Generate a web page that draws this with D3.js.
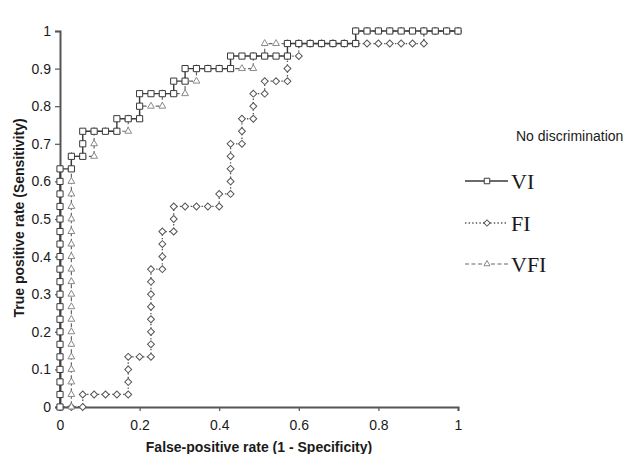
<!DOCTYPE html>
<html>
<head>
<meta charset="utf-8">
<script src="https://cdn.jsdelivr.net/npm/d3@7"></script>
<style>
  html, body { margin: 0; padding: 0; background: #ffffff; }
  svg { display: block; }
</style>
</head>
<body>
<svg id="chart" width="623" height="454"></svg>
<script>
// ROC curves: counts of false positives (out of 35 negatives) and
// true positives (out of 30 positives) at each threshold step.
const nNeg = 35;
const nPos = 30;

const viFP = [0,0,0,0,0,0,0,0,0,0,0,0,0,0,0,0,0,0,0,0,
  1,1,2,2,2,3,4,5,5,6,7,7,7,8,9,10,10,11,11,12,13,14,15,15,16,17,18,19,20,20,
  21,22,23,24,25,26,26,27,28,29,30,31,32,33,34,35];
const viTP = [0,1,2,3,4,5,6,7,8,9,10,11,12,13,14,15,16,17,18,19,
  19,20,20,21,22,22,22,22,23,23,23,24,25,25,25,25,26,26,27,27,27,27,27,28,28,28,28,28,28,29,
  29,29,29,29,29,29,30,30,30,30,30,30,30,30,30,30];

const fiFP = [0,1,2,2,3,4,5,6,6,6,6,7,8,8,8,8,8,8,8,8,9,9,9,9,10,10,10,11,12,13,14,14,
  15,15,15,15,15,16,16,16,17,17,17,18,18,19,20,20,20,21,21,22,23,24,25,26,27,28,29,30,31,32,32,33,34,35];
const fiTP = [0,0,0,1,1,1,1,1,2,3,4,4,4,5,6,7,8,9,10,11,11,12,13,14,14,15,16,16,16,16,16,17,
  17,18,19,20,21,21,22,23,23,24,25,25,26,26,26,27,28,28,29,29,29,29,29,29,29,29,29,29,29,29,30,30,30,30];

const vfiFP = [0,1,1,1,1,1,1,1,1,1,1,1,1,1,1,1,1,1,1,1,1,1,
  2,3,3,3,4,5,6,6,7,7,8,9,9,10,11,11,12,12,13,14,15,16,17,17,18,18,
  19,20,21,22,23,24,25,26,26,27,28,29,30,31,32,33,34,35];
const vfiTP = [0,0,1,2,3,4,5,6,7,8,9,10,11,12,13,14,15,16,17,18,19,20,
  20,20,21,22,22,22,22,23,23,24,24,24,25,25,25,26,26,27,27,27,27,27,27,28,28,29,
  29,29,29,29,29,29,29,29,30,30,30,30,30,30,30,30,30,30];

const xTicks = [0, 0.2, 0.4, 0.6, 0.8, 1];
const xTickLabels = ["0", "0.2", "0.4", "0.6", "0.8", "1"];
const yTicks = [0, 0.1, 0.2, 0.3, 0.4, 0.5, 0.6, 0.7, 0.8, 0.9, 1];
const yTickLabels = ["0", "0.1", "0.2", "0.3", "0.4", "0.5", "0.6", "0.7", "0.8", "0.9", "1"];

const legendTitle = "No discrimination";
const seriesNames = ["VI", "FI", "VFI"];
const xTitle = "False-positive rate (1 - Specificity)";
const yTitle = "True positive rate (Sensitivity)";

const svg = d3.select("#chart");
const plotLeft = 60, plotRight = 458, plotTop = 31, plotBottom = 407;

const x = d3.scaleLinear().domain([0, 1]).range([plotLeft, plotRight]);
const y = d3.scaleLinear().domain([0, 1]).range([plotBottom, plotTop]);

const toPoints = (fp, tp) => fp.map((f, i) => ({ fpr: f / nNeg, tpr: tp[i] / nPos }));

// FI uses a square turned 45 degrees as its diamond marker
const series = [
  { name: seriesNames[1], pts: toPoints(fiFP, fiTP),   stroke: "#555", dash: "1.4,2.2", width: 1.3,
    marker: d3.symbolSquare, msize: 24, rot: 45, mstroke: "#555" },
  { name: seriesNames[2], pts: toPoints(vfiFP, vfiTP), stroke: "#666", dash: "4,2.5", width: 1.2,
    marker: d3.symbolTriangle, msize: 20, rot: 0, mstroke: "#8a8a8a" },
  { name: seriesNames[0], pts: toPoints(viFP, viTP),   stroke: "#3a3a3a", dash: null, width: 1.4,
    marker: d3.symbolSquare, msize: 38, rot: 0, mstroke: "#3a3a3a" }
];

// axes
const fontFam = "'Liberation Sans', Arial, sans-serif";
const xAxis = d3.axisBottom(x).tickValues(xTicks).tickFormat((d, i) => xTickLabels[i]).tickSize(4).tickPadding(9);
const yAxis = d3.axisLeft(y).tickValues(yTicks).tickFormat((d, i) => yTickLabels[i]).tickSize(5).tickPadding(4);

const gx = svg.append("g").attr("transform", `translate(0,${plotBottom})`).call(xAxis);
const gy = svg.append("g").attr("transform", `translate(${plotLeft},0)`).call(yAxis);
[gx, gy].forEach(g => {
  g.select(".domain").attr("stroke", "#555").attr("stroke-width", 2);
  g.selectAll(".tick line").attr("stroke", "#555").attr("stroke-width", 1.2);
  g.selectAll(".tick text").attr("fill", "#1a1a1a").style("font-family", fontFam).style("font-size", "14px");
});

// curves
const line = d3.line().x(d => x(d.fpr)).y(d => y(d.tpr));
series.forEach(s => {
  const g = svg.append("g");
  g.append("path").datum(s.pts)
    .attr("d", line)
    .attr("fill", "none")
    .attr("stroke", s.stroke)
    .attr("stroke-width", s.width)
    .attr("stroke-dasharray", s.dash);
  g.selectAll("path.m").data(s.pts).enter().append("path")
    .attr("class", "m")
    .attr("d", d3.symbol().type(s.marker).size(s.msize))
    .attr("transform", d => `translate(${x(d.fpr)},${y(d.tpr)}) rotate(${s.rot})`)
    .attr("fill", "#fff")
    .attr("stroke", s.mstroke)
    .attr("stroke-width", 1);
});

// axis titles
svg.append("text")
  .attr("x", 259).attr("y", 452)
  .attr("text-anchor", "middle")
  .style("font-family", fontFam).style("font-size", "14px").style("font-weight", "bold")
  .attr("fill", "#1a1a1a")
  .text(xTitle);

svg.append("text")
  .attr("transform", "translate(24,218) rotate(-90)")
  .attr("text-anchor", "middle")
  .style("font-family", fontFam).style("font-size", "14px").style("font-weight", "bold")
  .attr("fill", "#1a1a1a")
  .text(yTitle);

// legend
svg.append("text")
  .attr("x", 516).attr("y", 141)
  .style("font-family", fontFam).style("font-size", "14px")
  .attr("fill", "#1a1a1a")
  .text(legendTitle);

const legendRows = [
  { s: series[2], y: 181 },
  { s: series[0], y: 223 },
  { s: series[1], y: 264 }
];
legendRows.forEach(r => {
  const g = svg.append("g");
  g.append("line")
    .attr("x1", 465).attr("x2", 508).attr("y1", r.y).attr("y2", r.y)
    .attr("stroke", r.s.stroke).attr("stroke-width", r.s.width)
    .attr("stroke-dasharray", r.s.dash);
  g.append("path")
    .attr("d", d3.symbol().type(r.s.marker).size(r.s.msize * 0.8)())
    .attr("transform", `translate(487,${r.y}) rotate(${r.s.rot})`)
    .attr("fill", "#fff").attr("stroke", r.s.mstroke).attr("stroke-width", 1);
  g.append("text")
    .attr("x", 511).attr("y", r.y + 8)
    .style("font-family", "'Liberation Serif', 'Times New Roman', serif")
    .style("font-size", "22px")
    .attr("fill", "#1a1a1a")
    .text(r.s.name);
});
</script>
</body>
</html>
